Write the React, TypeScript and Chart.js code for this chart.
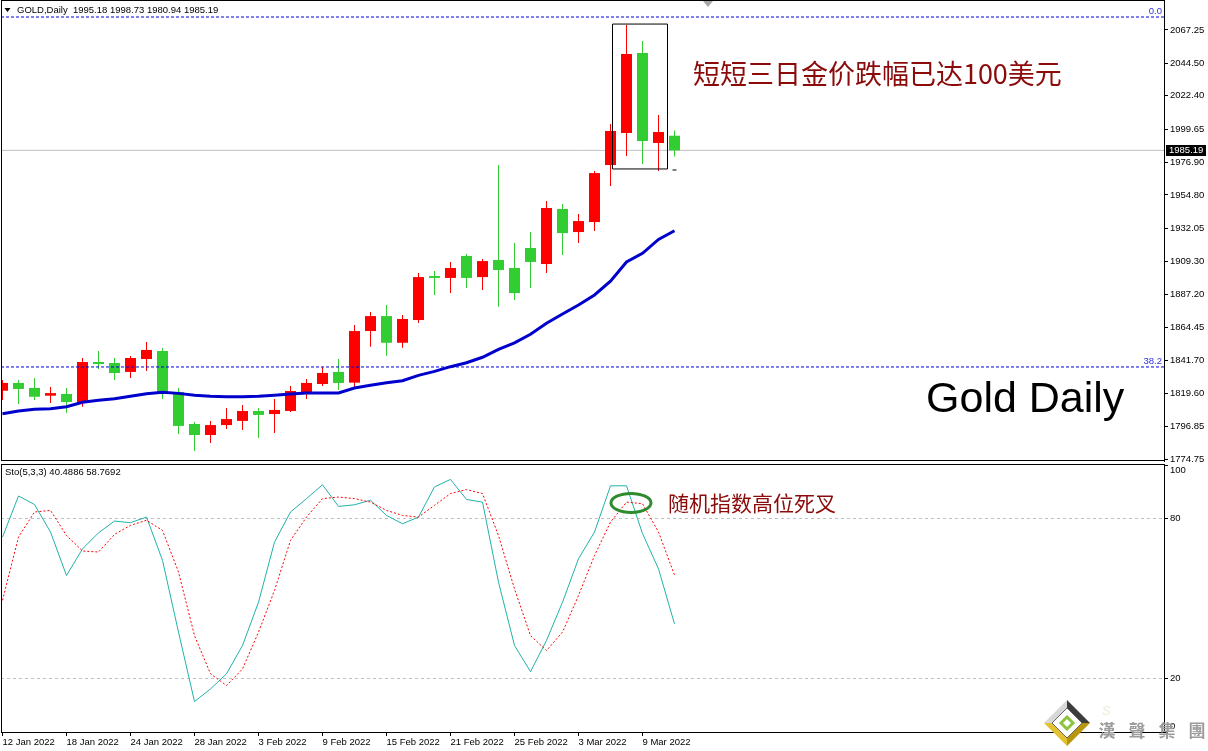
import React, { useEffect, useRef } from 'react';
import { Chart, registerables } from 'chart.js';

Chart.register(...registerables);

// ---------------- data ----------------
const candleOpen = [
  1821.3, 1826.6, 1823.2, 1817.9, 1819.1, 1813.6, 1840.9, 1840.2, 1834.1, 1842.9,
  1848.4, 1820.4, 1798.6, 1791.1, 1797.9, 1800.7, 1807.5, 1805.4, 1807.5, 1820.4,
  1825.9, 1834.1, 1826.8, 1862.0, 1872.2, 1854.0, 1869.5, 1899.5, 1898.2, 1913.2,
  1898.8, 1910.4, 1905.0, 1918.6, 1907.7, 1945.2, 1929.5, 1936.3, 1975.2, 1997.0,
  2051.6, 1990.2, 1995.18,
];
const candleHigh = [
  1828.6, 1828.6, 1830.0, 1823.8, 1823.2, 1843.6, 1848.4, 1843.6, 1845.0, 1854.5,
  1850.4, 1823.2, 1800.0, 1800.7, 1809.5, 1811.6, 1809.5, 1815.7, 1824.5, 1829.3,
  1837.5, 1842.9, 1866.1, 1875.0, 1879.7, 1872.9, 1901.6, 1902.9, 1909.1, 1914.5,
  1911.1, 1975.2, 1922.0, 1929.5, 1950.7, 1948.6, 1941.8, 1971.1, 2003.2, 2070.6,
  2059.7, 2009.3, 1998.73,
];
const candleLow = [
  1815.0, 1812.2, 1815.0, 1812.9, 1806.3, 1810.4, 1836.1, 1828.6, 1830.0, 1834.8,
  1815.7, 1791.8, 1780.2, 1785.7, 1795.2, 1794.5, 1789.1, 1792.5, 1806.8, 1815.7,
  1824.5, 1821.8, 1822.7, 1851.3, 1845.2, 1850.6, 1867.5, 1886.6, 1887.9, 1891.3,
  1890.0, 1878.6, 1883.2, 1891.3, 1901.6, 1913.8, 1922.0, 1930.2, 1960.9, 1981.3,
  1975.9, 1971.1, 1980.94,
];
const candleClose = [
  1826.6, 1822.5, 1817.2, 1819.7, 1813.6, 1840.9, 1839.5, 1833.4, 1843.6, 1849.1,
  1819.1, 1797.3, 1791.1, 1797.9, 1802.0, 1807.5, 1804.8, 1808.2, 1821.1, 1826.6,
  1833.4, 1826.6, 1862.0, 1872.2, 1854.0, 1870.2, 1898.8, 1898.2, 1905.0, 1898.2,
  1909.7, 1903.6, 1887.9, 1909.1, 1945.9, 1928.8, 1937.0, 1969.7, 1998.4, 2050.9,
  1991.6, 1997.7, 1985.19,
];
const maValues = [
  1805.6, 1807.5, 1808.6, 1809.0, 1810.4, 1813.4, 1814.8, 1815.9, 1817.5, 1819.3,
  1820.2, 1819.5, 1818.2, 1817.5, 1817.2, 1817.2, 1817.5, 1818.2, 1819.1, 1819.8,
  1819.8, 1819.8, 1823.2, 1825.0, 1826.8, 1828.1, 1831.8, 1834.5, 1837.7, 1840.4,
  1844.1, 1849.5, 1854.0, 1859.8, 1867.3, 1873.6, 1879.7, 1886.6, 1896.0, 1909.1,
  1915.0, 1924.5, 1930.4,
];
const stochMain = [
  73.0, 88.4, 85.2, 74.9, 58.6, 68.6, 74.6, 79.0, 78.4, 80.5,
  64.3, 37.4, 11.4, 16.1, 21.8, 32.4, 48.6, 71.1, 82.4, 87.4,
  92.6, 84.5, 85.1, 86.8, 81.1, 78.0, 80.5, 91.8, 94.6, 87.1,
  86.1, 56.1, 32.4, 22.6, 34.3, 48.6, 64.9, 74.9, 92.2, 92.2,
  74.3, 61.1, 40.4886,
];
const stochSignal = [
  49.3, 73.0, 82.4, 83.0, 73.6, 67.8, 67.4, 74.0, 77.4, 79.3,
  75.5, 59.9, 36.1, 21.8, 17.4, 23.6, 37.4, 53.0, 71.8, 80.5,
  87.4, 88.0, 87.4, 86.1, 83.0, 81.1, 80.5, 84.9, 89.3, 90.8,
  89.3, 73.6, 53.6, 36.1, 30.5, 37.4, 51.1, 66.1, 78.6, 86.1,
  85.5, 74.9, 58.7692,
];
const dateTickLabels = [
  '12 Jan 2022', '18 Jan 2022', '24 Jan 2022', '28 Jan 2022', '3 Feb 2022', '9 Feb 2022',
  '15 Feb 2022', '21 Feb 2022', '25 Feb 2022', '3 Mar 2022', '9 Mar 2022',
];
const dateTickStep = 4;
const priceTickValues = [
  2067.25, 2044.5, 2022.4, 1999.65, 1976.9, 1954.8, 1932.05, 1909.3, 1887.2, 1864.45,
  1841.7, 1819.6, 1796.85, 1774.75,
];
const stochTickValues = [100, 80, 20, 0];
const stochLevelValues = [80, 20];
const fiboLevels = [
  { label: '0.0', price: 2076.1 },
  { label: '38.2', price: 1837.5 },
];
const lastClose = 1985.19;
const headerText = 'GOLD,Daily  1995.18 1998.73 1980.94 1985.19';
const stochHeaderText = 'Sto(5,3,3) 40.4886 58.7692';
const highlightBox = { from: 38.125, to: 41.5625, high: 2071.3, low: 1972.5 };
const boxTick = { from: 41.875, to: 42.125, price: 1971.8 };
const noteTop = { text: '短短三日金价跌幅已达100美元', x: 43.15, price: 2037.2 };
const noteGold = { text: 'Gold Daily', x: 57.72, price: 1807.0 };
const noteStoch = { text: '随机指数高位死叉', x: 41.59, value: 85.6 };
const crossCircle = { x: 39.28, value: 85.8 };
const logoChars = ['漢', '聲', '集', '團'];

// ---------------- layout constants ----------------
const X_MIN = -0.09375;
const X_MAX = 72.59375;
const P_MIN = 1773.39;
const P_MAX = 2087.7;
const W = 1208;
const MAIN_H = 472;
const STOCH_TOP = 462;
const STOCH_H = 751 - STOCH_TOP;

const UI_FONT = '"Liberation Sans", Arial, sans-serif';
const CJK_FONT = '"Noto Sans CJK SC", "Noto Sans CJK TC", sans-serif';
const UP = '#ff0000';
const DOWN = '#32cd32';
const NOTE_RED = '#8b0a0a';

const idx = candleClose.map((_, i) => i);
const candleColors = idx.map((i) => (candleClose[i] >= candleOpen[i] ? UP : DOWN));

const tickFont = { family: UI_FONT, size: 9.5 };

const mainDecor = {
  id: 'mainDecor',
  afterDraw(chart: any) {
    const { ctx, chartArea: a, scales } = chart;
    const xs = scales.x;
    const ys = scales.y;
    ctx.save();
    ctx.setLineDash([]);
    ctx.strokeStyle = '#000';
    ctx.lineWidth = 1;
    ctx.strokeRect(a.left + 0.5, a.top + 0.5, a.right - a.left, a.bottom - a.top - 1);

    // header
    ctx.fillStyle = '#000';
    ctx.beginPath();
    ctx.moveTo(4.5, 8);
    ctx.lineTo(10.5, 8);
    ctx.lineTo(7.5, 12);
    ctx.closePath();
    ctx.fill();
    ctx.font = `9.5px ${UI_FONT}`;
    ctx.textAlign = 'left';
    ctx.textBaseline = 'middle';
    ctx.fillText(headerText, 17, 10.5);

    // shift marker
    ctx.fillStyle = '#a8a8a8';
    ctx.beginPath();
    ctx.moveTo(703, 1);
    ctx.lineTo(713, 1);
    ctx.lineTo(708, 7);
    ctx.closePath();
    ctx.fill();

    // fibo labels
    ctx.fillStyle = '#3030e0';
    ctx.textAlign = 'right';
    ctx.textBaseline = 'bottom';
    fiboLevels.forEach((f) => {
      ctx.fillText(f.label, a.right - 2, ys.getPixelForValue(f.price) - 0.5);
    });

    // last price tag
    const py = ys.getPixelForValue(lastClose);
    ctx.fillStyle = '#000';
    ctx.fillRect(a.right + 2, Math.round(py) - 5, 40, 11);
    ctx.fillStyle = '#fff';
    ctx.textAlign = 'left';
    ctx.textBaseline = 'middle';
    ctx.fillText(lastClose.toFixed(2), a.right + 5, py + 0.5);

    // notes
    ctx.fillStyle = NOTE_RED;
    ctx.font = `27px ${CJK_FONT}`;
    ctx.textBaseline = 'middle';
    ctx.fillText(noteTop.text, xs.getPixelForValue(noteTop.x), ys.getPixelForValue(noteTop.price));
    ctx.fillStyle = '#000';
    ctx.font = `43px ${UI_FONT}`;
    ctx.textBaseline = 'alphabetic';
    ctx.fillText(noteGold.text, xs.getPixelForValue(noteGold.x), ys.getPixelForValue(noteGold.price));
    ctx.restore();
  },
};

const stochDecor = {
  id: 'stochDecor',
  afterDraw(chart: any) {
    const { ctx, chartArea: a, scales } = chart;
    const xs = scales.x;
    const ys = scales.y;
    ctx.save();
    ctx.setLineDash([]);
    ctx.strokeStyle = '#000';
    ctx.lineWidth = 1;
    ctx.strokeRect(a.left + 0.5, a.top - 0.5, a.right - a.left, a.bottom - a.top + 1);

    ctx.fillStyle = '#000';
    ctx.font = `9.5px ${UI_FONT}`;
    ctx.textAlign = 'left';
    ctx.textBaseline = 'middle';
    ctx.fillText(stochHeaderText, 5, 10);

    // cross marker ellipse
    ctx.strokeStyle = '#2e8b2e';
    ctx.lineWidth = 3;
    ctx.beginPath();
    ctx.ellipse(xs.getPixelForValue(crossCircle.x), ys.getPixelForValue(crossCircle.value), 20, 9.5, 0, 0, Math.PI * 2);
    ctx.stroke();

    ctx.fillStyle = NOTE_RED;
    ctx.font = `21px ${CJK_FONT}`;
    ctx.textBaseline = 'middle';
    ctx.fillText(noteStoch.text, xs.getPixelForValue(noteStoch.x), ys.getPixelForValue(noteStoch.value));

    // logo (watermark)
    const cx = 1067;
    const cy = 723 - STOCH_TOP;
    const r = 23;
    const tri = (pts: number[][], color: string) => {
      ctx.fillStyle = color;
      ctx.beginPath();
      ctx.moveTo(pts[0][0], pts[0][1]);
      for (let k = 1; k < pts.length; k++) ctx.lineTo(pts[k][0], pts[k][1]);
      ctx.closePath();
      ctx.fill();
    };
    const T = [cx, cy - r], R = [cx + r, cy], B = [cx, cy + r], L = [cx - r, cy], C = [cx, cy];
    tri([C, L, T], '#d8d8d8');
    tri([C, T, R], '#3c3c3c');
    tri([C, R, B], '#b8960c');
    tri([C, B, L], '#e2c232');
    const ri = 15;
    tri([[cx, cy - ri], [cx + ri, cy], [cx, cy + ri], [cx - ri, cy]], '#ffffff');
    ctx.strokeStyle = '#666';
    ctx.lineWidth = 1;
    ctx.beginPath();
    ctx.moveTo(cx, cy - ri); ctx.lineTo(cx + ri, cy); ctx.lineTo(cx, cy + ri); ctx.lineTo(cx - ri, cy); ctx.closePath();
    ctx.stroke();
    ctx.strokeStyle = '#8cc43c';
    ctx.lineWidth = 3;
    const rg = 6;
    ctx.beginPath();
    ctx.moveTo(cx, cy - rg); ctx.lineTo(cx + rg, cy); ctx.lineTo(cx, cy + rg); ctx.lineTo(cx - rg, cy); ctx.closePath();
    ctx.stroke();

    ctx.fillStyle = '#ececd8';
    ctx.font = `italic 13px ${UI_FONT}`;
    ctx.textAlign = 'center';
    ctx.fillText('S', 1106, 711 - STOCH_TOP);
    ctx.fillStyle = '#9c9c9c';
    ctx.font = `bold 17px "Noto Sans CJK TC", sans-serif`;
    logoChars.forEach((ch, k) => {
      ctx.fillText(ch, 1107 + k * 30, 731 - STOCH_TOP);
    });
    ctx.restore();
  },
};

function lineData(xs: number[], ys: number[]) {
  return xs.map((x, k) => ({ x, y: ys[k] }));
}

export default function App() {
  const mainRef = useRef<HTMLCanvasElement>(null);
  const stochRef = useRef<HTMLCanvasElement>(null);

  useEffect(() => {
    Chart.defaults.font.family = UI_FONT;
    const datasetsMain: any[] = [
      {
        type: 'line', label: 'box', order: 0, clip: 0,
        data: lineData(
          [highlightBox.from, highlightBox.to, highlightBox.to, highlightBox.from, highlightBox.from],
          [highlightBox.high, highlightBox.high, highlightBox.low, highlightBox.low, highlightBox.high],
        ),
        borderColor: '#000', borderWidth: 1, pointRadius: 0, tension: 0, fill: false,
      },
      {
        type: 'line', label: 'boxTick', order: 0, clip: 0,
        data: lineData([boxTick.from, boxTick.to], [boxTick.price, boxTick.price]),
        borderColor: '#000', borderWidth: 1, pointRadius: 0,
      },
      {
        type: 'line', label: 'MA', order: 1, clip: 0,
        data: lineData(idx, maValues),
        borderColor: '#0000cc', borderWidth: 3, pointRadius: 0, tension: 0, fill: false,
      },
      ...fiboLevels.map((f) => ({
        type: 'line', label: 'fibo ' + f.label, order: 2, clip: 0,
        data: lineData([X_MIN, X_MAX], [f.price, f.price]),
        borderColor: '#0000dd', borderWidth: 1, borderDash: [3, 2], pointRadius: 0,
      })),
      {
        type: 'bar', label: 'bodies', order: 3, clip: 0, grouped: false,
        data: idx.map((i) => ({ x: i, y: [candleOpen[i], candleClose[i]] })),
        backgroundColor: candleColors, borderWidth: 0, barThickness: 11, inflateAmount: 0,
      },
      {
        type: 'bar', label: 'wicks', order: 4, clip: 0, grouped: false,
        data: idx.map((i) => ({ x: i, y: [candleLow[i], candleHigh[i]] })),
        backgroundColor: candleColors, borderWidth: 0, barThickness: 1, inflateAmount: 0,
      },
      {
        type: 'line', label: 'last', order: 5, clip: 0,
        data: lineData([X_MIN, X_MAX], [lastClose, lastClose]),
        borderColor: '#c0c0c0', borderWidth: 1, pointRadius: 0,
      },
    ];

    const main = new Chart(mainRef.current as HTMLCanvasElement, {
      type: 'bar',
      data: { datasets: datasetsMain },
      options: {
        responsive: false,
        animation: false,
        events: [],
        layout: { padding: { left: 1, top: 0, right: 0, bottom: MAIN_H - 461 } },
        plugins: { legend: { display: false }, tooltip: { enabled: false } },
        scales: {
          x: { type: 'linear', display: false, min: X_MIN, max: X_MAX, offset: false, bounds: 'data' },
          y: {
            type: 'linear', position: 'right', min: P_MIN, max: P_MAX, bounds: 'data', beginAtZero: false,
            afterBuildTicks: (s: any) => { s.ticks = priceTickValues.map((v) => ({ value: v })); },
            afterFit: (s: any) => { s.width = 44; s.paddingTop = 0; s.paddingBottom = 0; },
            ticks: { callback: (v: any) => Number(v).toFixed(2), color: '#000', font: tickFont, padding: 2 },
            grid: { drawOnChartArea: false, drawTicks: true, tickLength: 4, color: '#000' },
            border: { display: true, color: '#000' },
          },
        },
      } as any,
      plugins: [mainDecor],
    });

    const stoch = new Chart(stochRef.current as HTMLCanvasElement, {
      type: 'line',
      data: {
        datasets: [
          {
            label: 'signal', order: 0,
            data: lineData(idx, stochSignal),
            borderColor: '#ff0000', borderWidth: 1, borderDash: [2, 2], pointRadius: 0, tension: 0,
          },
          {
            label: 'main', order: 1,
            data: lineData(idx, stochMain),
            borderColor: '#20b2aa', borderWidth: 1, pointRadius: 0, tension: 0,
          },
        ] as any,
      },
      options: {
        responsive: false,
        animation: false,
        events: [],
        layout: { padding: { left: 1, top: 3, right: 0, bottom: 0 } },
        plugins: { legend: { display: false }, tooltip: { enabled: false } },
        scales: {
          x: {
            type: 'linear', min: X_MIN, max: X_MAX, offset: false, bounds: 'data',
            afterBuildTicks: (s: any) => { s.ticks = dateTickLabels.map((_, k) => ({ value: k * dateTickStep })); },
            afterFit: (s: any) => { s.height = 19; s.paddingLeft = 0; s.paddingRight = 0; },
            ticks: {
              autoSkip: false, maxRotation: 0, minRotation: 0, align: 'start',
              callback: (_v: any, k: number) => dateTickLabels[k],
              color: '#000', font: tickFont, padding: 1,
            },
            grid: { drawOnChartArea: false, drawTicks: true, tickLength: 4, color: '#000' },
            border: { display: true, color: '#000' },
          },
          y: {
            type: 'linear', position: 'right', min: 0, max: 100, bounds: 'data',
            afterBuildTicks: (s: any) => { s.ticks = stochTickValues.map((v) => ({ value: v })); },
            afterFit: (s: any) => { s.width = 44; s.paddingTop = 0; s.paddingBottom = 0; },
            ticks: {
              callback: (v: any) => {
                const n = Number(v);
                if (n === 100) return ['', '100'];
                if (n === 0) return ['0', ''];
                return String(n);
              },
              color: '#000', font: tickFont, padding: 2,
            },
            grid: {
              drawOnChartArea: true, drawTicks: true, tickLength: 4,
              color: (c: any) => (c.tick && stochLevelValues.includes(c.tick.value) ? '#c0c0c0' : 'rgba(0,0,0,0)'),
              tickColor: '#000',
            },
            border: { display: true, color: '#000', dash: [3, 3] },
          },
        },
      } as any,
      plugins: [stochDecor],
    });

    return () => {
      main.destroy();
      stoch.destroy();
    };
  }, []);

  return (
    <div style={{ position: 'fixed', left: 0, top: 0, width: W, height: 751, background: '#fff', overflow: 'hidden' }}>
      <canvas
        ref={mainRef}
        width={W}
        height={MAIN_H}
        style={{ position: 'absolute', left: 0, top: 0, width: W, height: MAIN_H }}
      />
      <canvas
        ref={stochRef}
        width={W}
        height={STOCH_H}
        style={{ position: 'absolute', left: 0, top: STOCH_TOP, width: W, height: STOCH_H }}
      />
    </div>
  );
}
